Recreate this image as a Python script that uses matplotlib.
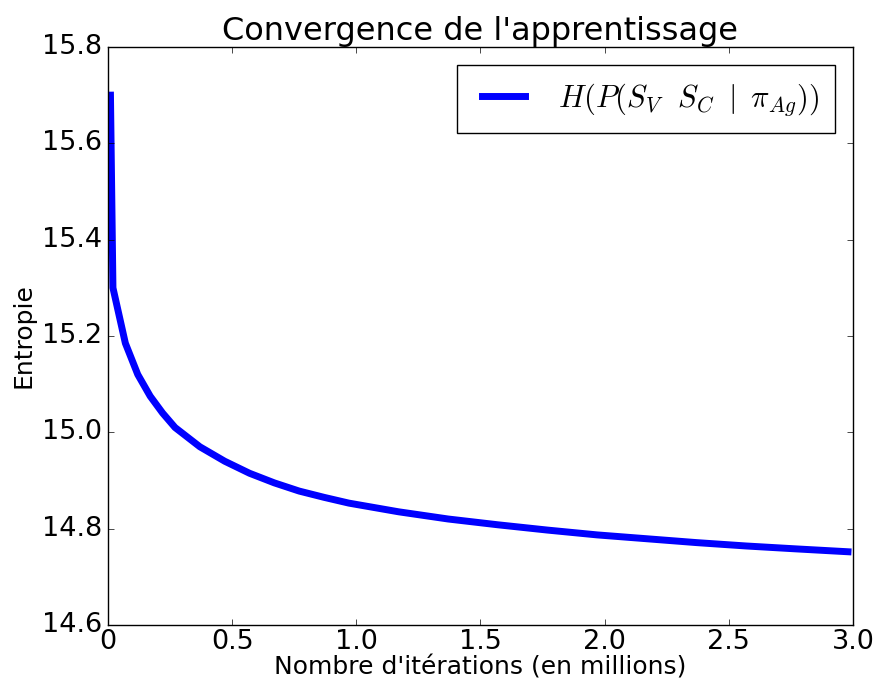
import matplotlib
matplotlib.use("Agg")
import matplotlib.pyplot as plt

# iterations (millions) and entropy
iterations = [0.01, 0.02, 0.07, 0.12, 0.17, 0.22, 0.27, 0.32, 0.37, 0.42,
              0.47, 0.57, 0.67, 0.77, 0.87, 0.97, 1.17, 1.37, 1.57, 1.77,
              1.97, 2.17, 2.37, 2.57, 2.77, 2.98]
entropy = [15.70, 15.30, 15.185, 15.12, 15.075, 15.04, 15.01, 14.99, 14.97, 14.955,
           14.94, 14.915, 14.895, 14.878, 14.865, 14.853, 14.835, 14.82, 14.808, 14.797,
           14.787, 14.779, 14.771, 14.764, 14.758, 14.752]
x_ticks = [0, 0.5, 1.0, 1.5, 2.0, 2.5, 3.0]
x_tick_labels = ["0", "0.5", "1.0", "1.5", "2.0", "2.5", "3.0"]
y_ticks = [14.6, 14.8, 15.0, 15.2, 15.4, 15.6, 15.8]
legend_label = r"$H(P(S_V\ \ S_C\ \mid\ \pi_{Ag}))$"

plt.style.use("classic")
fig = plt.figure(figsize=(8.75, 6.84), dpi=100)
fig.patch.set_facecolor("white")
ax = fig.add_axes([0.1234, 0.0863, 0.8514, 0.845])

ax.plot(iterations, entropy, color="blue", linewidth=5, label=legend_label)
ax.set_xlim(0, 3.0)
ax.set_ylim(14.6, 15.8)
ax.set_xticks(x_ticks)
ax.set_xticklabels(x_tick_labels)
ax.set_yticks(y_ticks)
ax.set_yticklabels([f"{v:.1f}" for v in y_ticks])
ax.tick_params(labelsize=19.5)
ax.tick_params(axis="x", pad=3)

ax.set_title("Convergence de l'apprentissage", fontsize=23)
ax.set_xlabel("Nombre d'itérations (en millions)", fontsize=18, labelpad=0)
ax.set_ylabel("Entropie", fontsize=18)

leg = ax.legend(loc="upper right", fontsize=22, handlelength=2.0, borderpad=0.5,
                borderaxespad=0.6)

fig.savefig("out.png", dpi=100, facecolor="white")
